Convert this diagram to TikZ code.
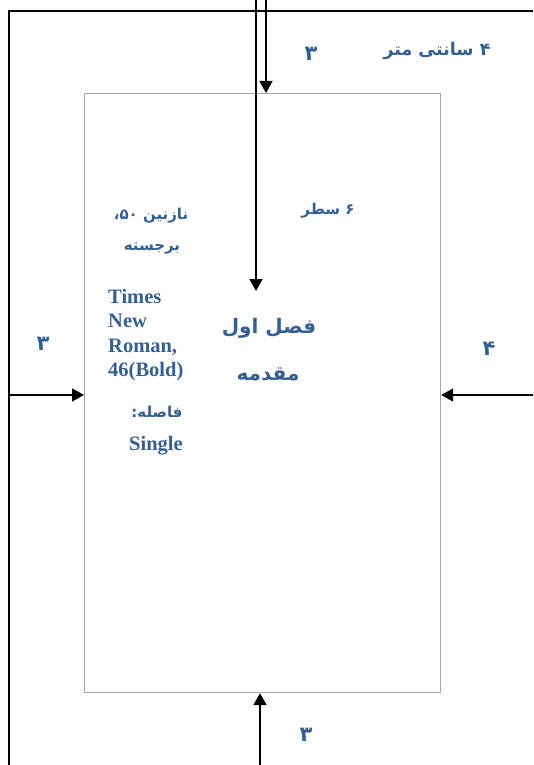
\documentclass[tikz,border=0pt]{standalone}
\usepackage{fontspec}
\setmainfont{Liberation Serif}
\newfontfamily\arabicfont[Script=Arabic]{DejaVu Sans}
\TeXXeTstate=1
\usetikzlibrary{arrows.meta}
\definecolor{txtblue}{HTML}{365F91}
\definecolor{boxgray}{HTML}{A6A6A6}
\tikzset{
  arr/.style={line width=1.7pt,-{Triangle[length=12pt,width=13pt]}},
  frame/.style={line width=1.8pt},
  fa/.style={text=txtblue,font=\arabicfont\bfseries\fontsize{15}{18}\selectfont,inner sep=0pt},
  fadigit/.style={text=txtblue,font=\arabicfont\bfseries\fontsize{21}{24}\selectfont,inner sep=0pt},
  facm/.style={text=txtblue,font=\arabicfont\bfseries\fontsize{17.5}{20}\selectfont,inner sep=0pt},
  fabig/.style={text=txtblue,font=\arabicfont\bfseries\fontsize{20}{24}\selectfont,inner sep=0pt},
  en/.style={text=txtblue,font=\bfseries\fontsize{20.5}{24.5}\selectfont,inner sep=0pt,anchor=base west},
}
\begin{document}
\begin{tikzpicture}[x=1pt,y=-1pt]
\useasboundingbox (0,0) rectangle (533,765);
% outer frame
\coordinate (fbl) at (9,765);
\coordinate (ftl) at (9,11);
\coordinate (ftr) at (533,11);
\draw[frame] (fbl) -- (ftl) -- (ftr);
% inner page
\node[draw=boxgray,line width=1.2pt,minimum width=356pt,minimum height=599pt,inner sep=0pt,anchor=north west] (page) at (84,93) {};
% top arrows
\coordinate (t1) at (256,0);
\coordinate (t1e) at (256,291);
\coordinate (t2) at (266,0);
\draw[arr] (t1) -- (t1e);
\draw[arr] (t2) -- (t2 |- page.north);
% side arrows
\coordinate (l1) at (9,395);
\coordinate (r1) at (533,395);
\draw[arr] (l1) -- (l1 -| page.west);
\draw[arr] (r1) -- (r1 -| page.east);
% bottom arrow
\coordinate (b1) at (260,765);
\draw[arr] (b1) -- (b1 |- page.south);
% labels
\node[fadigit] (topthree) at (311,54) {\beginR ۳\endR};
\node[facm] (fourcm) at (437,51) {\beginR ۴ سانتی متر\endR};
\node[fa] (sixline) at (328,211) {\beginR ۶ سطر\endR};
\node[fa] (naz) at (151,216) {\beginR نازنین ۵۰،\endR};
\node[fa] (bold) at (152,249) {\beginR برجسته\endR};
\node[en] (times1) at (108,303) {Times};
\node[en] (times2) at (108,327.5) {New};
\node[en] (times3) at (108,352) {Roman,};
\node[en] (times4) at (108,376.5) {46(Bold)};
\node[fabig] (chap) at (269,328) {\beginR فصل اول\endR};
\node[fabig] (intro) at (268,374) {\beginR مقدمه\endR};
\node[fa] (spacing) at (157,412) {\beginR فاصله:\endR};
\node[en,anchor=center] (single) at (156,446) {Single};
\node[fadigit] (leftthree) at (43,344) {\beginR ۳\endR};
\node[fadigit] (rightfour) at (489,349) {\beginR ۴\endR};
\node[fadigit] (botthree) at (306,735) {\beginR ۳\endR};
\end{tikzpicture}
\end{document}
